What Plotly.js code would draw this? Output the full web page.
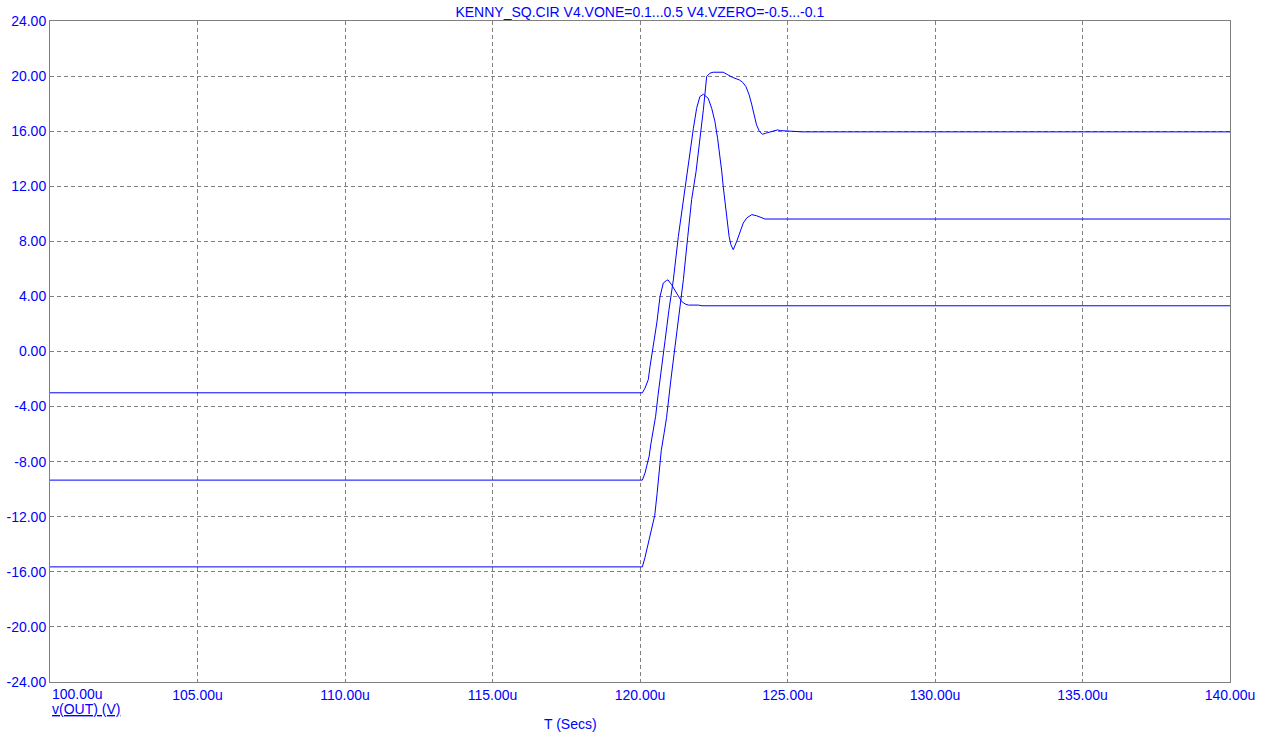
<!DOCTYPE html>
<html>
<head>
<meta charset="utf-8">
<script src="https://cdn.plot.ly/plotly-3.0.1.min.js"></script>
<style>
  html, body { margin: 0; padding: 0; background: #ffffff; }
  #chart { width: 1267px; height: 744px; }
</style>
</head>
<body>
<div id="chart"></div>
<script>
// Time axis in microseconds, voltage in volts
const titleText = "KENNY_SQ.CIR V4.VONE=0.1...0.5 V4.VZERO=-0.5...-0.1";

// Trace starting at -15.6 V, settling at ~16 V
const tA = [100, 120.08, 120.17, 120.28, 120.40, 120.50, 120.58, 120.65, 120.72, 120.82, 120.90, 121.05, 121.22, 121.35, 121.47, 121.62, 121.75, 121.90, 122.03, 122.15, 122.26, 122.37, 122.48, 122.82, 122.98, 123.14, 123.37, 123.48, 123.59, 123.70, 123.79, 123.87, 123.95, 124.04, 124.15, 124.26, 124.43, 124.66, 124.77, 125.17, 125.5, 140];
const vA = [-15.64, -15.64, -14.95, -14.0, -12.95, -11.9, -10.3, -8.6, -7.2, -5.9, -4.8, -2.0, 0.85, 3.2, 5.21, 8.36, 11.03, 13.06, 15.3, 17.6, 19.97, 20.21, 20.28, 20.28, 20.09, 19.9, 19.72, 19.55, 19.24, 18.64, 17.91, 17.18, 16.46, 16.02, 15.77, 15.85, 15.97, 16.09, 16.04, 15.97, 15.95, 15.95];

// Trace starting at -9.3 V, settling at ~9.6 V
const tB = [100, 120.08, 120.17, 120.25, 120.31, 120.37, 120.45, 120.53, 120.61, 120.71, 120.85, 120.98, 121.13, 121.30, 121.47, 121.60, 121.69, 121.81, 121.92, 122.03, 122.15, 122.31, 122.43, 122.54, 122.63, 122.71, 122.77, 122.82, 122.88, 122.94, 123.02, 123.08, 123.16, 123.28, 123.39, 123.50, 123.62, 123.79, 123.95, 124.12, 124.24, 140];
const vB = [-9.34, -9.34, -8.83, -8.2, -7.6, -6.7, -5.7, -4.7, -3.2, -1.4, 0.8, 3.0, 5.2, 8.36, 11.03, 13.06, 14.52, 16.21, 17.66, 18.51, 18.68, 18.39, 17.66, 16.70, 15.48, 14.27, 13.1, 12.0, 10.79, 9.57, 8.36, 7.76, 7.39, 8.0, 8.61, 9.33, 9.70, 9.94, 9.86, 9.70, 9.62, 9.62];

// Trace starting at -3 V, settling at ~3.3 V
const tC = [100, 120.08, 120.17, 120.28, 120.34, 120.45, 120.57, 120.68, 120.79, 120.90, 120.95, 121.07, 121.24, 121.41, 121.53, 121.64, 121.98, 122.1, 140];
const vC = [-3.0, -3.0, -2.66, -2.05, -1.09, 0.37, 2.07, 4.0, 4.97, 5.16, 5.2, 4.85, 4.25, 3.64, 3.45, 3.37, 3.37, 3.32, 3.32];

const xTickVals = [100, 105, 110, 115, 120, 125, 130, 135, 140];
const xTickText = ["", "105.00u", "110.00u", "115.00u", "120.00u", "125.00u", "130.00u", "135.00u", "140.00u"];
const firstXLabel = "100.00u";
const yTickVals = [-24, -20, -16, -12, -8, -4, 0, 4, 8, 12, 16, 20, 24];
const yTickText = ["-24.00", "-20.00", "-16.00", "-12.00", "-8.00", "-4.00", "0.00", "4.00", "8.00", "12.00", "16.00", "20.00", "24.00"];
const yLabel = "v(OUT) (V)";
const xLabel = "T (Secs)";

const blue = "#0000ff";
const gray = "#808080";
const fontFam = "Liberation Sans, Arial, sans-serif";

const mk = (t, v) => ({
  x: t, y: v, type: "scatter", mode: "lines",
  line: { color: blue, width: 1 }, hoverinfo: "skip", showlegend: false
});

const data = [mk(tC, vC), mk(tB, vB), mk(tA, vA)];

const layout = {
  width: 1267, height: 744,
  margin: { l: 50, r: 37, t: 21, b: 62, pad: 0 },
  paper_bgcolor: "#ffffff", plot_bgcolor: "#ffffff",
  font: { family: fontFam, size: 14, color: blue },
  title: { text: titleText, font: { family: fontFam, size: 14, color: blue }, x: 0.505, xanchor: "center", y: 0.984, yanchor: "middle" },
  showlegend: false,
  xaxis: {
    range: [100, 140], tickvals: xTickVals, ticktext: xTickText,
    showgrid: true, gridcolor: gray, griddash: "4px,3px", gridwidth: 1,
    showline: true, linecolor: gray, linewidth: 1, mirror: true,
    zeroline: false, ticks: "", tickfont: { family: fontFam, size: 14, color: blue },
    fixedrange: true
  },
  yaxis: {
    range: [-24, 24], tickvals: yTickVals, ticktext: yTickText,
    showgrid: true, gridcolor: gray, griddash: "4px,3px", gridwidth: 1,
    showline: true, linecolor: gray, linewidth: 1, mirror: true,
    zeroline: false, ticks: "", tickfont: { family: fontFam, size: 14, color: blue },
    fixedrange: true
  },
  annotations: [
    { text: firstXLabel, xref: "x", yref: "paper", x: 100, y: 0, xanchor: "left", yanchor: "top", yshift: -2, showarrow: false, font: { family: fontFam, size: 14, color: blue } },
    { text: "<u>" + yLabel + "</u>", xref: "x", yref: "paper", x: 100, y: 0, xanchor: "left", yanchor: "top", yshift: -17, showarrow: false, font: { family: fontFam, size: 14, color: blue } },
    { text: xLabel, xref: "paper", yref: "paper", x: 0.441, y: 0, xanchor: "center", yanchor: "top", yshift: -32, showarrow: false, font: { family: fontFam, size: 14, color: blue } }
  ]
};

Plotly.newPlot("chart", data, layout, { staticPlot: true, displayModeBar: false });
</script>
</body>
</html>
